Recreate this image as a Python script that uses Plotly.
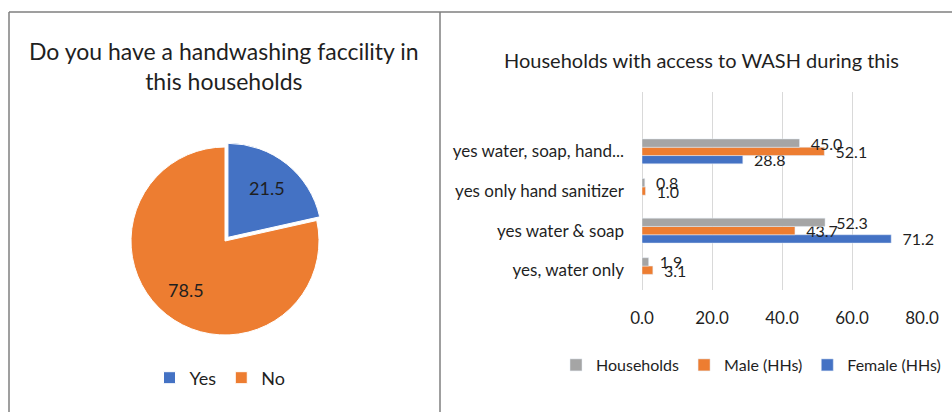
import math
import plotly.graph_objects as go

# Pie: handwashing facility
pie_labels = ["Yes", "No"]
pie_values = [21.5, 78.5]
pie_pull = [0.05, 0]

# Bars: access to WASH by household head (bottom to top; blank slot on top)
categories = ["yes, water only", "yes water & soap", "yes only hand sanitizer",
              "yes water, soap, hand...", " "]
households = [1.9, 52.3, 0.8, 45.0, None]
male_hhs = [3.1, 43.7, 1.0, 52.1, None]
female_hhs = [None, 71.2, None, 28.8, None]
x_ticks = [0, 20, 40, 60, 80]

BLUE = "#4472C4"
ORANGE = "#ED7D31"
GRAY = "#A5A5A5"
TEXT = "#1f1f1f"
FONT = "Lato"

W, H = 952, 412


def px(x):
    return x / W


def py(y):
    return 1 - y / H


# pie placement (pixels): centre and half-size of its square domain
PIE_CX, PIE_CY, PIE_HALF = 225, 241, 98.7
pie_r = PIE_HALF / (1 + max(pie_pull))

fig = go.Figure()

fig.add_trace(go.Pie(
    labels=pie_labels, values=pie_values, sort=False, direction="clockwise",
    rotation=0, pull=pie_pull,
    marker=dict(colors=[BLUE, ORANGE], line=dict(color="white", width=1)),
    textinfo="none", hoverinfo="label+value",
    domain=dict(x=[px(PIE_CX - PIE_HALF), px(PIE_CX + PIE_HALF)],
                y=[py(PIE_CY + PIE_HALF), py(PIE_CY - PIE_HALF)]),
    legend="legend",
))

# slice value labels placed along each slice's bisector
pie_annotations = []
total = sum(pie_values)
cum = 0.0
for val, pull in zip(pie_values, pie_pull):
    theta = 2 * math.pi * (cum + val / 2) / total
    cum += val
    dist = (0.67 + pull) * pie_r
    lx = PIE_CX + dist * math.sin(theta)
    ly = PIE_CY - dist * math.cos(theta)
    pie_annotations.append(dict(
        text=f"{val:.1f}", x=px(lx), y=py(ly), xref="paper", yref="paper",
        showarrow=False, xanchor="center", yanchor="middle",
        font=dict(family=FONT, size=18, color=TEXT)))

series = [("Female (HHs)", female_hhs, BLUE), ("Male (HHs)", male_hhs, ORANGE),
          ("Households", households, GRAY)]
for name, vals, col in series:
    fig.add_trace(go.Bar(
        name=name, y=categories, x=vals, orientation="h", marker_color=col,
        texttemplate="\u00a0\u00a0%{x:.1f}", textposition="outside", constraintext="none",
        cliponaxis=False, textfont=dict(family=FONT, size=16, color=TEXT),
        xaxis="x", yaxis="y", legend="legend2",
    ))

fig.update_layout(
    width=W, height=H, margin=dict(l=0, r=0, t=0, b=0, autoexpand=False),
    paper_bgcolor="white", plot_bgcolor="white",
    font=dict(family=FONT, color=TEXT),
    barmode="group", bargap=0.37, bargroupgap=0,
    xaxis=dict(domain=[px(642), px(922)], range=[0, 80], tickvals=x_ticks,
               tickformat=".1f", showgrid=True, gridcolor="#D9D9D9", gridwidth=1,
               zeroline=True, zerolinecolor="#D9D9D9", zerolinewidth=1,
               showline=False, ticks="", ticklabelstandoff=16, automargin=False,
               tickfont=dict(family=FONT, size=17, color=TEXT), anchor="y"),
    yaxis=dict(domain=[py(290), py(92)], type="category", categoryorder="array",
               categoryarray=categories, showgrid=False, showline=False, ticks="",
               ticklabelstandoff=17, automargin=False,
               tickfont=dict(family=FONT, size=17, color=TEXT), anchor="x"),
    legend=dict(orientation="h", x=px(220), xanchor="center", y=py(378), yanchor="middle",
                font=dict(family=FONT, size=18, color=TEXT), itemwidth=30,
                bgcolor="rgba(0,0,0,0)"),
    legend2=dict(orientation="h", x=px(946), xanchor="right", y=py(365), yanchor="middle",
                 font=dict(family=FONT, size=16, color=TEXT), itemwidth=30,
                 traceorder="reversed", bgcolor="rgba(0,0,0,0)"),
    annotations=pie_annotations + [
        dict(text="Do you have a handwashing faccility in<br>this households",
             x=px(224), y=py(66), xref="paper", yref="paper", showarrow=False,
             xanchor="center", yanchor="middle",
             font=dict(family=FONT, size=23, color=TEXT)),
        dict(text="Households with access to WASH during this",
             x=px(701), y=py(60), xref="paper", yref="paper", showarrow=False,
             xanchor="center", yanchor="middle",
             font=dict(family=FONT, size=20, color=TEXT)),
    ],
    shapes=[
        dict(type="line", xref="paper", yref="paper", x0=px(9), x1=1, y0=py(12), y1=py(12),
             line=dict(color="#7F7F7F", width=1.5)),
        dict(type="line", xref="paper", yref="paper", x0=px(9), x1=px(9), y0=py(12), y1=0,
             line=dict(color="#7F7F7F", width=1.5)),
        dict(type="line", xref="paper", yref="paper", x0=px(440), x1=px(440), y0=py(12), y1=0,
             line=dict(color="#7F7F7F", width=1.5)),
    ],
)

fig.write_html("out.html")
